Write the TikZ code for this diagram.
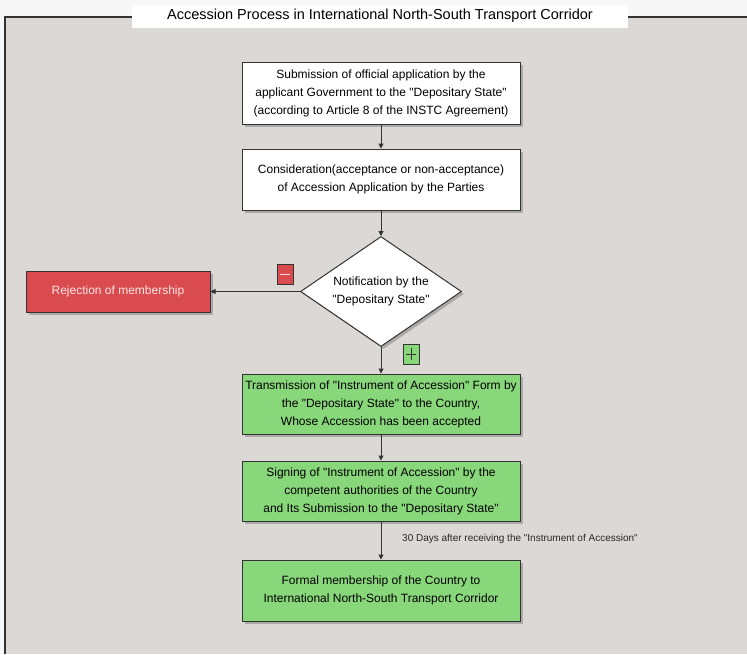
\documentclass[tikz,border=0pt]{standalone}
\usepackage{fontspec}
\setmainfont{Liberation Sans}[Ligatures=TeXOff]
\usetikzlibrary{shapes.geometric,shadows,arrows.meta}
\definecolor{bggray}{HTML}{DCD8D6}
\definecolor{pagebg}{HTML}{F7F7F7}
\definecolor{redbox}{HTML}{D94B4E}
\definecolor{greenbox}{HTML}{88D77A}
\definecolor{edgecol}{HTML}{333333}
\tikzset{
  shad/.style={drop shadow={shadow xshift=2.5pt,shadow yshift=-2.5pt,fill=black!45,opacity=0.6}},
  procbox/.style={draw=edgecol,line width=1pt,minimum width=278pt,minimum height=61pt,
    align=center,font=\fontsize{12}{18}\selectfont,inner sep=0pt,shad},
  whitebox/.style={procbox,fill=white},
  greenstep/.style={procbox,fill=greenbox},
  conn/.style={draw=edgecol,line width=1pt,-{Triangle[length=5pt,width=5pt]}},
}
\begin{document}
\begin{tikzpicture}[x=1pt,y=-1pt]
\useasboundingbox (0,0) rectangle (747,654);
\fill[pagebg] (0,0) rectangle (747,654);
\fill[bggray] (5,17) rectangle (747,654);
\draw[edgecol,line width=1.2pt] (5,654) -- (5,17) -- (132,17);
\draw[edgecol,line width=1.2pt] (628,17) -- (747,17);
\node[fill=white,minimum width=496pt,minimum height=23pt,inner sep=0pt,font=\fontsize{14.5}{16}\selectfont] (title) at (380,16) {Accession Process in International North-South Transport Corridor};

\node[whitebox,minimum height=62pt] (s1) at (381,93) {Submission of official application by the\\applicant Government to the "Depositary State"\\(according to Article 8 of the INSTC Agreement)};
\node[whitebox] (s2) at (381,179.5) {Consideration(acceptance or non-acceptance)\\of Accession Application by the Parties};
\node[diamond,draw=edgecol,fill=white,line width=1pt,minimum width=161pt,minimum height=110pt,inner sep=0pt,aspect=1.46,align=center,font=\fontsize{12}{18}\selectfont,shad] (d) at (381,291.5) {Notification by the\\"Depositary State"};
\node[draw=edgecol,fill=redbox,line width=1pt,minimum width=184pt,minimum height=41pt,inner sep=0pt,text=white!90!red,font=\fontsize{12}{14}\selectfont,shad] (rej) at (118,291.5) {Rejection of membership};
\node[greenstep,minimum height=60pt] (g1) at (381,404) {Transmission of "Instrument of Accession" Form by\\the "Depositary State" to the Country,\\Whose Accession has been accepted};
\node[greenstep,minimum height=60pt] (g2) at (381,491) {Signing of "Instrument of Accession" by the\\competent authorities of the Country\\and Its Submission to the "Depositary State"};
\node[greenstep] (g3) at (381,590.5) {Formal membership of the Country to\\International North-South Transport Corridor};

\draw[conn] (s1.south) -- (s2.north);
\draw[conn] (s2.south) -- (d.north);
\draw[conn] (d.west) -- (rej.east);
\draw[conn] (d.south) -- (g1.north);
\draw[conn] (g1.south) -- (g2.north);
\draw[conn] (g2.south) -- (g3.north);

\node[anchor=west,inner sep=0pt,font=\fontsize{10}{12}\selectfont,text=black!85] (lbl) at (402,539) {30 Days after receiving the "Instrument of Accession"};

% minus icon
\node[draw=edgecol,fill=redbox,line width=0.8pt,minimum width=16pt,minimum height=20pt,inner sep=0pt] (minus) at (285,274.5) {};
\draw[white!85!red,line width=1.6pt] ([xshift=3pt]minus.west) -- ([xshift=-3pt]minus.east);
% plus icon
\node[draw=edgecol,fill=greenbox,line width=0.8pt,minimum width=16pt,minimum height=20pt,inner sep=0pt] (plus) at (411,354) {};
\draw[black!80,line width=1pt] ([xshift=3pt]plus.west) -- ([xshift=-3pt]plus.east);
\draw[black!80,line width=1pt] ([yshift=-4pt]plus.north) -- ([yshift=4pt]plus.south);
\end{tikzpicture}
\end{document}
